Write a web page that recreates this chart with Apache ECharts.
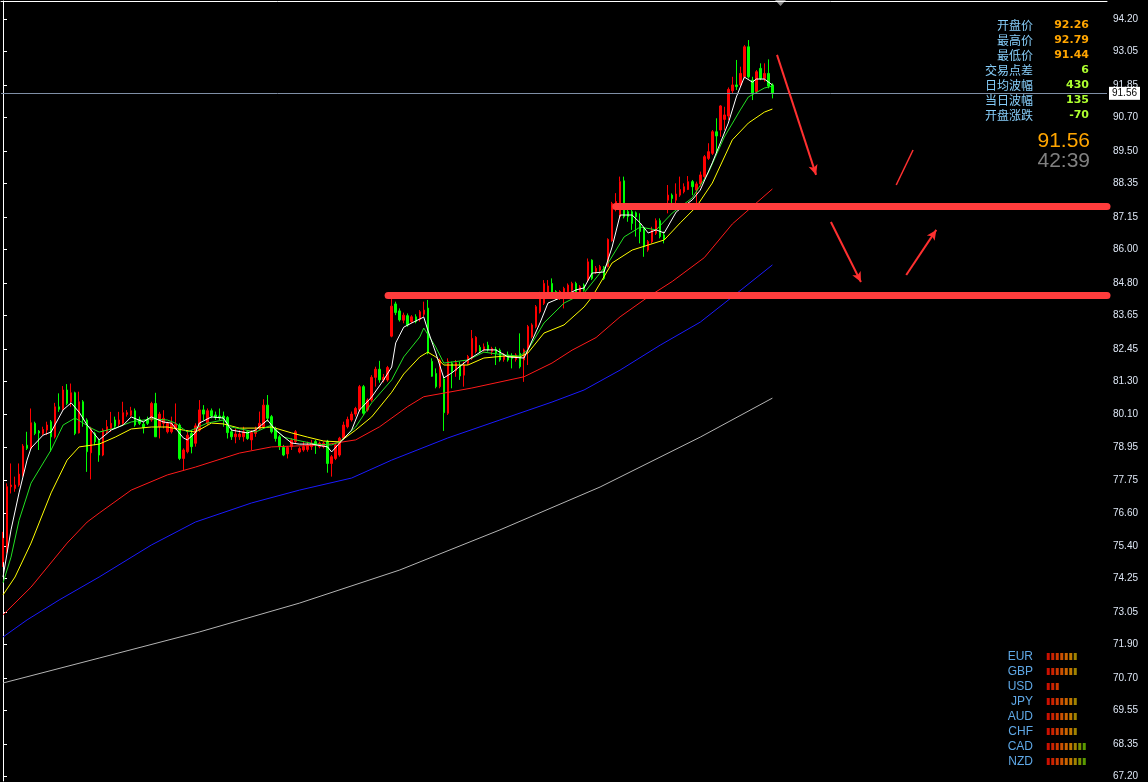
<!DOCTYPE html>
<html><head><meta charset="utf-8">
<script src="https://cdn.jsdelivr.net/npm/echarts@6/dist/echarts.min.js"></script>
<style>html,body{margin:0;padding:0;background:#000;}#c{width:1148px;height:782px;}</style>
</head><body><div id="c"></div><script>
// ---------- data ----------
const N = 276; // bar slots on the chart (incl. empty space to the right)
const opens = [74.85,75.21,77.53,77.47,77.59,77.94,79.01,78.90,79.79,79.51,
79.43,79.55,79.85,79.31,80.38,80.32,80.98,80.56,80.88,79.45,
80.56,79.91,78.74,79.43,79.19,78.66,79.49,79.61,79.91,79.76,
79.79,80.11,80.08,80.24,79.93,79.76,79.93,79.91,80.50,79.67,
79.79,79.49,79.49,79.61,79.73,78.54,78.78,79.43,79.08,79.55,
80.27,79.79,80.24,80.09,80.05,80.05,80.00,79.49,79.31,79.31,
79.31,79.49,79.20,79.43,79.61,79.67,80.44,80.03,79.58,79.31,
78.93,78.70,78.96,79.14,78.77,78.84,78.86,78.96,79.14,78.96,
78.96,79.14,78.36,78.54,78.66,79.26,79.67,79.91,80.12,80.27,
81.10,80.27,80.62,81.43,81.72,81.34,81.34,82.90,84.05,83.80,
83.47,83.63,83.42,83.59,83.50,83.68,83.90,82.00,81.57,81.10,
81.37,80.15,81.93,81.67,81.87,81.51,81.93,82.11,82.35,82.50,
82.41,82.58,82.35,82.43,82.40,82.07,82.23,82.19,82.07,82.29,
82.05,82.41,82.88,83.24,83.77,84.07,84.37,84.78,84.49,84.31,
84.43,84.48,84.54,84.78,84.48,84.72,84.90,85.61,85.20,85.26,
85.35,85.38,86.30,87.45,87.16,88.44,87.34,87.34,87.30,86.92,
86.75,85.97,86.27,86.57,87.02,86.51,87.75,87.93,87.75,87.93,
88.05,88.13,88.41,88.11,88.33,88.59,89.24,89.42,90.19,90.25,
90.63,90.75,91.65,91.86,91.86,92.15,93.22,92.03,91.62,92.45,
92.09,92.27,91.86];
const closes = [75.69,77.53,77.59,77.59,77.98,78.98,78.90,79.81,79.43,79.45,
79.57,79.73,79.31,80.38,80.29,80.98,80.50,80.88,79.43,80.56,
79.91,78.78,79.61,79.13,78.66,79.55,79.67,79.79,79.69,79.91,
80.17,80.17,80.24,79.73,79.79,79.64,79.79,80.50,79.31,80.12,
79.97,79.79,79.79,79.76,78.54,78.84,79.37,78.96,79.70,80.27,
80.12,80.24,80.05,80.00,79.99,79.97,79.46,79.31,79.41,79.41,
79.49,79.25,79.46,79.55,79.79,80.44,79.97,79.49,79.25,78.96,
78.66,78.93,79.20,79.49,78.89,78.96,79.02,79.08,79.02,79.08,
79.08,78.36,78.60,79.02,79.26,79.73,79.93,80.12,80.32,81.10,
80.15,80.62,81.43,81.72,81.34,81.43,81.78,83.97,83.74,83.48,
83.65,83.30,83.59,83.42,83.77,83.83,82.30,81.47,81.10,82.05,
80.17,82.00,81.63,81.95,81.48,81.87,82.17,82.82,82.86,82.35,
82.52,82.41,82.46,82.29,82.05,82.19,82.05,82.11,82.23,81.81,
82.41,83.24,83.30,83.95,84.43,84.78,84.69,84.31,84.31,84.49,
84.60,84.72,84.78,84.48,84.66,84.54,85.55,84.96,85.32,85.38,
84.96,86.35,87.63,87.70,88.41,87.16,87.16,86.92,87.16,86.63,
86.09,86.27,86.69,87.02,86.45,86.35,87.93,87.81,87.97,88.13,
88.23,88.41,88.23,88.33,88.65,89.30,89.48,90.19,90.04,91.11,
90.79,91.70,91.86,91.80,92.27,93.22,92.15,91.56,92.33,92.09,
92.27,91.82,91.56];
const lows = [74.67,75.15,77.29,77.35,77.53,77.89,78.84,78.84,79.37,78.84,
79.37,79.37,78.78,79.25,80.20,80.26,80.44,80.38,79.37,79.43,
79.67,78.06,77.79,79.01,78.42,78.62,79.43,79.49,79.61,79.67,
79.73,80.03,80.03,79.67,79.73,79.43,79.73,79.85,79.31,79.25,
79.61,79.43,79.43,79.55,78.48,78.12,78.72,78.72,78.96,79.49,
79.91,79.73,79.97,79.91,79.91,79.67,79.25,79.20,79.08,79.20,
79.14,79.20,78.84,79.31,79.55,79.61,79.85,79.43,79.14,78.84,
78.62,78.54,78.84,79.08,78.72,78.78,78.78,78.84,78.70,78.90,
78.90,78.03,77.89,78.48,78.60,79.20,79.61,79.85,80.03,80.21,
80.09,80.21,80.56,81.10,81.24,81.25,81.28,82.86,83.65,83.42,
83.36,83.24,83.36,83.36,83.42,83.59,82.25,81.45,81.04,81.04,
79.52,80.09,81.04,81.45,81.34,81.10,81.87,82.05,82.29,82.29,
82.35,82.35,82.23,81.87,81.99,81.99,81.99,81.75,81.99,81.75,
81.27,81.87,82.82,83.18,83.71,84.01,84.31,84.25,84.19,84.19,
83.89,84.43,84.48,84.43,84.40,84.49,84.84,84.90,85.12,85.20,
84.90,85.35,86.27,87.35,87.10,87.10,86.98,86.69,86.45,86.21,
85.73,85.91,86.21,86.51,86.39,86.21,87.28,87.63,87.63,87.87,
87.99,88.11,87.93,87.63,88.23,88.53,89.18,89.36,89.42,90.01,
90.25,90.61,91.56,91.68,91.80,92.09,92.09,91.32,91.56,92.03,
91.98,91.74,91.38];
const highs = [75.92,77.65,78.36,77.89,78.36,79.05,79.49,80.32,79.85,79.55,
79.67,79.85,79.91,80.52,80.86,81.12,81.19,81.21,80.92,80.92,
80.62,79.97,79.67,79.49,79.25,79.61,79.91,80.20,80.03,80.20,
80.56,80.26,80.38,80.32,80.03,79.85,80.03,80.56,80.88,80.20,
80.26,79.85,80.03,80.50,79.79,78.90,79.55,79.55,79.79,80.62,
80.44,80.32,80.32,80.21,80.32,80.21,80.05,79.61,79.61,79.55,
79.67,79.55,79.55,79.67,80.21,80.65,80.80,80.09,79.67,79.37,
79.02,78.98,79.26,79.55,78.96,79.14,79.14,79.20,79.20,79.14,
79.14,79.20,78.66,79.08,79.31,79.85,80.03,80.21,80.38,81.16,
81.16,80.68,81.51,81.81,82.02,81.55,81.84,84.28,84.13,83.89,
83.74,83.71,83.65,83.68,83.83,84.13,84.19,82.11,81.75,82.11,
81.45,82.11,81.99,82.05,81.99,81.99,82.23,83.12,82.90,82.58,
82.64,82.70,82.52,82.52,82.46,82.29,82.35,82.29,82.29,83.00,
82.46,83.30,83.36,84.01,84.48,84.90,84.90,84.96,84.54,84.54,
84.66,84.78,84.84,84.84,84.72,84.78,85.67,85.64,85.40,85.44,
85.40,86.39,87.69,88.00,88.59,88.59,87.40,87.40,87.35,87.28,
86.80,86.33,86.80,87.10,87.10,86.63,88.29,87.99,88.35,88.59,
88.35,88.61,88.47,88.41,88.77,89.36,89.78,90.25,90.67,91.14,
91.08,91.77,92.15,92.75,92.51,93.28,93.46,92.15,92.39,92.63,
92.63,92.77,91.92];

// moving averages: [bar index, value]
const maWhite = [[0,74.31],[2,75.99],[4,77.31],[6,78.48],[7,78.91],[10,79.37],[12,79.48],[15,80.27],[17,80.52],[19,80.19],[21,79.73],[24,79.20],[27,79.55],[30,79.73],[32,80.02],[35,79.84],[37,80.02],[40,79.84],[42,79.80],[45,79.27],[46,79.20],[48,79.45],[49,79.80],[52,80.02],[55,79.98],[57,79.55],[61,79.45],[63,79.55],[66,79.91],[68,79.55],[72,79.09],[74,79.05],[77,79.05],[81,78.95],[82,78.77],[84,79.09],[87,79.55],[89,80.27],[92,80.73],[95,81.34],[97,81.80],[98,82.66],[100,83.22],[102,83.37],[105,83.58],[106,83.12],[108,82.30],[110,81.41],[112,81.59],[116,82.05],[120,82.41],[123,82.41],[126,82.16],[130,82.12],[131,82.41],[134,83.37],[136,84.08],[139,84.26],[143,84.55],[145,84.62],[147,85.15],[150,85.19],[152,86.08],[154,87.22],[157,87.22],[159,86.94],[161,86.58],[163,86.69],[165,86.58],[168,87.33],[172,87.76],[174,88.11],[177,89.08],[181,90.50],[183,91.43],[185,92.14],[187,91.96],[188,92.07],[190,92.07],[192,91.86]];
const maGreen = [[0,74.10],[2,75.02],[4,76.33],[7,77.66],[12,78.84],[15,79.73],[18,79.98],[22,79.62],[24,79.48],[28,79.62],[32,79.84],[37,79.95],[41,79.91],[43,79.80],[46,79.48],[51,79.80],[55,79.91],[57,79.66],[63,79.48],[67,79.73],[70,79.30],[73,79.20],[78,79.05],[82,79.02],[84,79.13],[88,79.66],[92,80.52],[97,81.34],[100,82.16],[104,82.87],[105,83.19],[108,82.51],[110,81.94],[116,82.05],[120,82.33],[125,82.23],[129,82.19],[131,82.41],[135,83.37],[140,84.08],[145,84.44],[151,85.51],[155,86.44],[159,86.79],[163,86.69],[167,87.29],[172,87.83],[176,88.72],[180,90.00],[184,90.97],[186,91.43],[190,91.75],[192,91.82]];
const maYellow = [[0,73.67],[3,74.31],[7,75.52],[12,77.31],[16,78.48],[19,78.95],[24,79.05],[28,79.30],[32,79.59],[37,79.66],[41,79.66],[45,79.55],[48,79.48],[52,79.80],[55,79.77],[59,79.62],[63,79.62],[67,79.66],[72,79.45],[76,79.30],[80,79.16],[84,79.13],[88,79.55],[92,80.02],[97,80.90],[100,81.55],[104,82.16],[106,82.33],[108,82.16],[110,81.87],[116,81.87],[120,82.12],[125,82.19],[129,82.16],[131,82.30],[135,83.01],[140,83.30],[145,83.94],[147,84.30],[152,85.51],[157,85.97],[161,86.15],[165,86.33],[169,86.94],[173,87.51],[177,88.36],[182,89.90],[186,90.50],[190,90.89],[192,91.00]];
const maRed = [[0,72.96],[7,73.95],[16,75.52],[21,76.27],[24,76.59],[32,77.41],[41,77.95],[48,78.23],[59,78.73],[67,78.95],[80,79.02],[88,79.20],[94,79.67],[101,80.39],[105,80.74],[117,81.05],[130,81.45],[137,81.94],[142,82.40],[148,82.85],[154,83.59],[161,84.30],[167,84.85],[175,85.70],[182,86.90],[186,87.40],[192,88.15]];
const maBlue = [[0,72.17],[6,72.78],[14,73.49],[24,74.31],[37,75.45],[48,76.27],[62,76.95],[74,77.41],[87,77.84],[97,78.48],[111,79.27],[124,79.91],[137,80.55],[145,80.98],[154,81.69],[164,82.58],[174,83.40],[182,84.30],[192,85.44]];
const maGray = [[0,70.53],[24,71.42],[49,72.35],[74,73.38],[99,74.56],[124,75.99],[149,77.52],[174,79.30],[192,80.69]];

// price-axis tick labels
const yTickLabels = ['94.20','93.05','91.85','90.70','89.50','88.35','87.15','86.00','84.80','83.65','82.45','81.30','80.10','78.95','77.75','76.60','75.40','74.25','73.05','71.90','70.70','69.55','68.35','67.20'];
const lastPrice = 91.56;

// drawn objects (bar index, price)
const levelLines = [[152.9, 87.52], [96.1, 84.37]];
const arrowLines = [[193.15, 92.93, 202.9, 88.65], [206.6, 86.97, 214.1, 84.83], [225.4, 85.08, 232.9, 86.69]];
const plainLines = [[222.9, 88.29, 227.1, 89.54]];

// info panel
const infoLabels = ['开盘价','最高价','最低价','交易点差','日均波幅','当日波幅','开盘涨跌'];
const infoValues = ['92.26','92.79','91.44','6','430','135','-70'];
const clockText = '42:39';

// currency strength panel
const currencies = ['EUR','GBP','USD','JPY','AUD','CHF','CAD','NZD'];
const strength = [7,7,3,7,7,7,9,9];

// ---------- build ----------
const cats = [];
for (let i = 0; i < N; i++) cats.push(String(i));
const candles = opens.map((o, i) => [o, closes[i], lows[i], highs[i]]);
const yTickValues = yTickLabels.map(Number);

const segColors = ['#ff1400','#ff2a00','#ff4600','#ff6400','#ff7e00','#f09600','#c8a400','#98b400','#70c000'];
const strengthCells = [];
currencies.forEach((c, r) => { for (let k = 0; k < strength[r]; k++) strengthCells.push({value: [k, c], itemStyle: {color: segColors[k]}}); });

const infoColors = ['#ffa500','#ffa500','#ffa500','#adff2f','#adff2f','#adff2f','#adff2f'];
const graphics = [];
infoLabels.forEach((t, k) => {
  graphics.push({type:'text', x:1033, y:25 + 15*k, style:{text:t, fill:'#87cefa', font:'12px "Noto Sans CJK SC"', align:'right', verticalAlign:'middle'}});
  graphics.push({type:'text', x:1089, y:25 + 15*k, style:{text:infoValues[k], fill:infoColors[k], font:'bold 11px "DejaVu Sans"', align:'right', verticalAlign:'middle'}});
});
graphics.push({type:'text', x:1090, y:141, style:{text:lastPrice.toFixed(2), fill:'#ffa500', font:'21px "Liberation Sans"', align:'right', verticalAlign:'middle'}});
graphics.push({type:'text', x:1090, y:161, style:{text:clockText, fill:'#808080', font:'21px "Liberation Sans"', align:'right', verticalAlign:'middle'}});
graphics.push({type:'polygon', shape:{points:[[775,0],[786,0],[780.5,6]]}, style:{fill:'#8c8c8c'}});

const annot = [];
levelLines.forEach(([x0, p]) => annot.push([
  {coord:[x0, p], symbol:'none', lineStyle:{color:'#ff3c3c', width:7, cap:'round', type:'solid'}},
  {coord:[N - 0.5, p], symbol:'none'}
]));
arrowLines.forEach(([x0, p0, x1, p1]) => annot.push([
  {coord:[x0, p0], symbol:'none', lineStyle:{color:'#ff3030', width:2, type:'solid'}},
  {coord:[x1, p1], symbol:'arrow', symbolSize:[7, 10]}
]));
plainLines.forEach(([x0, p0, x1, p1]) => annot.push([
  {coord:[x0, p0], symbol:'none', lineStyle:{color:'#ff3030', width:1.5, type:'solid'}},
  {coord:[x1, p1], symbol:'none'}
]));

function maSeries(data, color) {
  return {type:'line', xAxisIndex:0, yAxisIndex:0, data:data, showSymbol:false, symbol:'none', silent:true,
    lineStyle:{color:color, width:1}, z:3};
}

const option = {
  backgroundColor:'#000',
  animation:false,
  graphic: graphics,
  grid:[
    {left:1, right:41, top:1, bottom:1},
    {left:1046, top:649, width:45, height:120}
  ],
  xAxis:[
    {type:'category', gridIndex:0, data:cats, position:'top', boundaryGap:true,
      axisLine:{show:true, lineStyle:{color:'#ffffff', width:1}}, axisTick:{show:false}, axisLabel:{show:false}, splitLine:{show:false}},
    {type:'value', gridIndex:0, min:-0.5, max:N - 0.5, show:false},
    {type:'value', gridIndex:1, min:-0.5, max:9.5, show:false}
  ],
  yAxis:[
    {type:'value', gridIndex:0, position:'right', min:67.035, max:94.853,
      axisLine:{show:true, lineStyle:{color:'#ffffff', width:1}},
      axisTick:{show:true, length:4, customValues:yTickValues, lineStyle:{color:'#ffffff'}},
      axisLabel:{show:true, customValues:yTickValues, formatter:(v) => Number(v).toFixed(2), color:'#dde6f4', fontSize:10, fontFamily:'Liberation Sans', margin:6},
      splitLine:{show:false}},
    {type:'category', gridIndex:1, data:currencies, inverse:true,
      axisLine:{show:false}, axisTick:{show:false}, splitLine:{show:false},
      axisLabel:{interval:0, color:'#5fa8e6', fontSize:12, fontFamily:'Liberation Sans', margin:13}}
  ],
  series:[
    {type:'candlestick', xAxisIndex:0, yAxisIndex:0, data:candles, barWidth:2,
      itemStyle:{color:'#ff0000', color0:'#00ff00', borderColor:'#ff0000', borderColor0:'#00ff00', borderWidth:1},
      markLine:{silent:true, symbol:['none','none'], animation:false,
        lineStyle:{color:'#7f8fa6', width:1, type:'solid'},
        label:{show:true, position:'end', formatter:lastPrice.toFixed(2), backgroundColor:'#ffffff', color:'#000000', fontSize:10, fontFamily:'Liberation Sans', padding:[2,3,1,3], distance:2},
        data:[{yAxis:lastPrice}]}},
    maSeries(maGray, '#b4b4b4'),
    maSeries(maBlue, '#1a1aff'),
    maSeries(maRed, '#ff1a1a'),
    maSeries(maYellow, '#ffff00'),
    maSeries(maGreen, '#22e022'),
    maSeries(maWhite, '#ffffff'),
    {type:'line', xAxisIndex:1, yAxisIndex:0, data:[], silent:true, z:5,
      markLine:{silent:true, animation:false, symbol:['none','none'], label:{show:false}, data:annot}},
    {type:'scatter', xAxisIndex:2, yAxisIndex:1, data:strengthCells, symbol:'rect', symbolSize:[3,7], silent:true}
  ]
};
const chart = echarts.init(document.getElementById('c'), null, {renderer:'canvas'});
chart.setOption(option);
</script></body></html>
